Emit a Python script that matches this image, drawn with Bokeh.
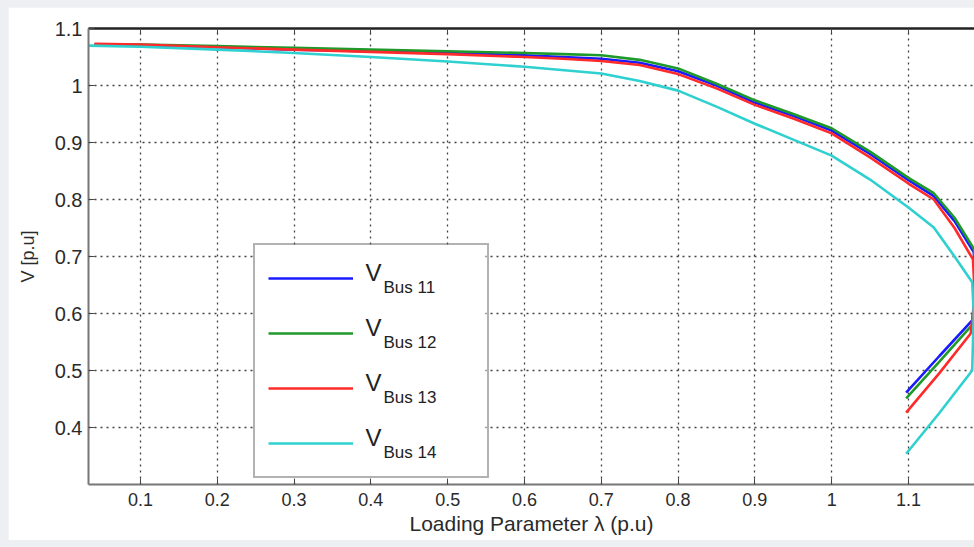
from bokeh.plotting import figure
from bokeh.layouts import column
from bokeh.models import Range1d, FixedTicker, LinearAxis, Legend, LegendItem, Label, BoxAnnotation
from bokeh.embed import file_html
from bokeh.resources import INLINE

# ---- data ----
x_ticks = [0.1, 0.2, 0.3, 0.4, 0.5, 0.6, 0.7, 0.8, 0.9, 1.0, 1.1]
y_ticks = [0.4, 0.5, 0.6, 0.7, 0.8, 0.9, 1.0, 1.1]
x_tick_labels = {0.1: "0.1", 0.2: "0.2", 0.3: "0.3", 0.4: "0.4", 0.5: "0.5", 0.6: "0.6",
                 0.7: "0.7", 0.8: "0.8", 0.9: "0.9", 1.0: "1", 1.1: "1.1"}
y_tick_labels = {0.4: "0.4", 0.5: "0.5", 0.6: "0.6", 0.7: "0.7", 0.8: "0.8",
                 0.9: "0.9", 1.0: "1", 1.1: "1.1"}

lam_11 = [0.04, 0.1, 0.2, 0.3, 0.4, 0.5, 0.6, 0.65, 0.7, 0.75, 0.8, 0.85, 0.9, 0.95, 1.0, 1.05,
          1.1, 1.133, 1.16, 1.185, 1.188, 1.186, 1.183, 1.14, 1.097]
v_11 = [1.071, 1.071, 1.067, 1.063, 1.060, 1.057, 1.053, 1.050, 1.047, 1.040, 1.025, 1.000,
        0.970, 0.947, 0.921, 0.880, 0.834, 0.806, 0.762, 0.708, 0.660, 0.620, 0.588, 0.525, 0.461]

lam_12 = [0.04, 0.1, 0.2, 0.3, 0.4, 0.5, 0.6, 0.65, 0.7, 0.75, 0.8, 0.85, 0.9, 0.95, 1.0, 1.05,
          1.1, 1.133, 1.16, 1.185, 1.189, 1.187, 1.183, 1.14, 1.097]
v_12 = [1.072, 1.072, 1.069, 1.066, 1.063, 1.060, 1.057, 1.055, 1.053, 1.045, 1.030, 1.003,
        0.974, 0.950, 0.925, 0.884, 0.838, 0.811, 0.768, 0.714, 0.665, 0.615, 0.580, 0.515, 0.451]

lam_13 = [0.04, 0.1, 0.2, 0.3, 0.4, 0.5, 0.6, 0.65, 0.7, 0.75, 0.8, 0.85, 0.9, 0.95, 1.0, 1.05,
          1.1, 1.133, 1.16, 1.184, 1.186, 1.184, 1.181, 1.14, 1.097]
v_13 = [1.073, 1.072, 1.067, 1.063, 1.059, 1.055, 1.050, 1.047, 1.043, 1.036, 1.020, 0.995,
        0.966, 0.942, 0.916, 0.874, 0.828, 0.800, 0.750, 0.695, 0.640, 0.600, 0.565, 0.495, 0.426]

lam_14 = [0.032, 0.1, 0.2, 0.3, 0.4, 0.5, 0.6, 0.7, 0.75, 0.8, 0.85, 0.9, 0.95, 1.0, 1.05,
          1.1, 1.133, 1.16, 1.183, 1.185, 1.184, 1.183, 1.14, 1.097]
v_14 = [1.070, 1.068, 1.063, 1.057, 1.050, 1.042, 1.033, 1.021, 1.008, 0.991, 0.963, 0.933,
        0.905, 0.877, 0.835, 0.786, 0.751, 0.700, 0.655, 0.600, 0.550, 0.500, 0.425, 0.354]

series = [
    ("Bus 11", lam_11, v_11, "#1a1aff"),
    ("Bus 12", lam_12, v_12, "#1f9a2a"),
    ("Bus 13", lam_13, v_13, "#ff2a2a"),
    ("Bus 14", lam_14, v_14, "#2fd0d0"),
]

FONT = "Liberation Sans"
X0, X1 = 0.0323, 1.186
Y0, Y1 = 0.3, 1.1

p = figure(width=966, height=533, output_backend="svg", toolbar_location=None,
           x_range=Range1d(X0, X1), y_range=Range1d(Y0, Y1),
           min_border_left=80, min_border_right=0, min_border_top=21, min_border_bottom=56,
           background_fill_color="white", border_fill_color="white",
           outline_line_color=None)
p.margin = (7, 0, 7, 8)

# axes
xa = p.xaxis[0]
xa.ticker = FixedTicker(ticks=x_ticks)
xa.major_label_overrides = x_tick_labels
xa.axis_label = "Loading Parameter \u03bb (p.u)"
ya = p.yaxis[0]
ya.ticker = FixedTicker(ticks=y_ticks)
ya.major_label_overrides = y_tick_labels
ya.axis_label = "V [p.u]"
for ax in (xa, ya):
    ax.major_tick_in = 6
    ax.major_tick_out = 0
    ax.minor_tick_line_color = None
    ax.axis_line_color = "#777777"
    ax.axis_line_width = 2
    ax.major_tick_line_color = "#444444"
    ax.major_label_text_font = FONT
    ax.major_label_text_color = "#2a2a2a"
    ax.axis_label_text_font = FONT
    ax.axis_label_text_font_style = "normal"
    ax.axis_label_text_color = "#2a2a2a"
xa.major_label_text_font_size = "18px"
xa.major_label_standoff = 8
xa.axis_label_text_font_size = "21px"
xa.axis_label_standoff = 3
ya.major_label_text_font_size = "20px"
ya.major_label_standoff = 6
ya.axis_label_text_font_size = "18px"
ya.axis_label_standoff = 14

top_axis = LinearAxis(ticker=FixedTicker(ticks=x_ticks), major_label_text_color=None,
                      major_label_text_font_size="8px",
                      major_tick_in=6, major_tick_out=0, minor_tick_line_color=None,
                      axis_line_color="#222222", axis_line_width=2.5,
                      major_tick_line_color="#444444", major_label_standoff=0)
p.add_layout(top_axis, "above")

# grid
for g in (p.xgrid[0], p.ygrid[0]):
    g.grid_line_color = "#222222"
    g.grid_line_dash = "2 4"
    g.grid_line_width = 1.3
    g.grid_line_alpha = 0.85
p.xgrid[0].ticker = FixedTicker(ticks=x_ticks)
p.ygrid[0].ticker = FixedTicker(ticks=y_ticks)

renderers = []
for name, lam, v, col in series:
    r = p.line(lam, v, line_color=col, line_width=2.6)
    renderers.append(r)

# legend placement helpers (page pixels -> data coordinates)
SX = 768.0   # px per unit lambda
SY = 570.0   # px per unit V
def px_to_x(px):
    return X0 + (px - 88) / SX
def py_to_y(py):
    return Y0 + (484 - py) / SY

# white legend background (covers the grid), then texts, then the legend itself
p.add_layout(BoxAnnotation(left=px_to_x(253), right=px_to_x(485), top=py_to_y(246), bottom=py_to_y(478),
                           fill_color="white", fill_alpha=1.0, line_color=None))

for i, (name, lam, v, col) in enumerate(series):
    yc = 278 + 55 * i
    p.add_layout(Label(x=px_to_x(365), y=py_to_y(yc - 20), text="V", text_font=FONT,
                       text_font_size="24px", text_color="#222222", text_baseline="top"))
    p.add_layout(Label(x=px_to_x(383), y=py_to_y(yc - 1), text=name, text_font=FONT,
                       text_font_size="17px", text_color="#222222", text_baseline="top"))

legend = Legend(items=[LegendItem(label="V", renderers=[r]) for r in renderers],
                location=(165, 6), orientation="vertical",
                glyph_width=85, glyph_height=40, label_height=40, label_width=106,
                label_standoff=15, spacing=15, padding=13, margin=0,
                border_line_color="#666666", border_line_width=2,
                background_fill_alpha=0.0,
                label_text_font=FONT, label_text_font_size="24px",
                label_text_color="#222222", label_text_alpha=0.0)
p.add_layout(legend)

page = column(p, styles={"background-color": "#edeff2"}, width=974, height=547)
open("out.html", "w").write(file_html(page, INLINE))
